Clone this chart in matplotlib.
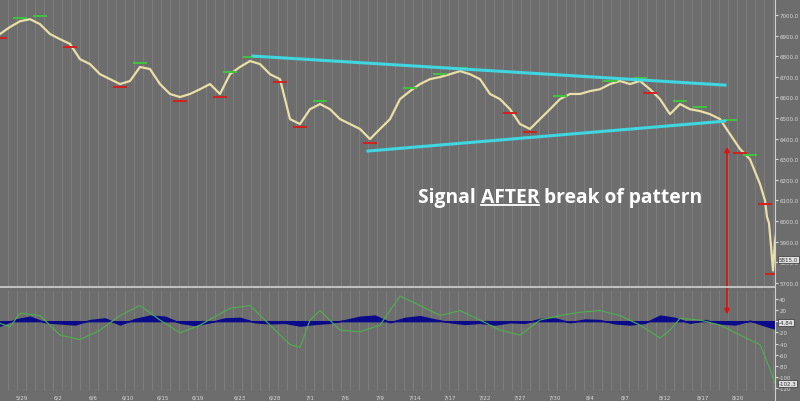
import matplotlib
matplotlib.use("Agg")
import matplotlib.pyplot as plt
from matplotlib.patches import FancyArrowPatch

# bar positions (chart time units) and closes
bar_x = list(range(0, 761, 10)) + [765, 767, 769, 771, 773, 775, 777, 779]
price = [6908, 6942, 6970, 6980, 6956, 6908, 6883, 6860, 6786, 6762, 6713, 6689, 6665,
         6680, 6748, 6738, 6665, 6617, 6602, 6617, 6640, 6665, 6617, 6713, 6748, 6777,
         6762, 6713, 6689, 6495, 6471, 6543, 6568, 6543, 6495, 6471, 6447, 6398, 6447,
         6495, 6592, 6631, 6665, 6689, 6699, 6713, 6728, 6713, 6689, 6617, 6592, 6543,
         6471, 6447, 6495, 6543, 6592, 6617, 6617, 6631, 6640, 6665, 6680, 6665, 6680,
         6640, 6592, 6519, 6568, 6543, 6534, 6519, 6495, 6422, 6350, 6300, 6180,
         6100, 6020, 5990, 5880, 5760, 5900, 5980, 5815]

osc_x = [0, 10, 20, 40, 60, 80, 100, 120, 140, 160, 180, 200, 230, 250, 270, 290, 300,
         310, 320, 340, 360, 380, 400, 420, 440, 460, 480, 500, 520, 540, 560, 580, 600,
         620, 640, 660, 670, 680, 700, 720, 740, 760, 770, 775, 780]
osc = [-4, -10, 14, 10, -25, -33, -16, 10, 28, 2, -21, -7, 23, 28, -7, -42, -47, 2, 19,
       -16, -19, -7, 45, 28, 10, 19, 2, -16, -25, 2, 10, 16, 19, 10, -7, -30, -16, 5, 2,
       -7, -25, -42, -86, -112, -95]

hist_x = [0, 15, 30, 45, 60, 75, 90, 105, 120, 135, 150, 165, 180, 195, 210, 225, 240,
          255, 270, 285, 300, 315, 330, 345, 360, 375, 390, 405, 420, 435, 450, 465, 480,
          495, 510, 525, 540, 555, 570, 585, 600, 615, 630, 645, 660, 675, 690, 705, 720,
          735, 750, 765, 780]
hist = [-8, 3, 8, -2, -4, -6, 2, 5, -6, 4, 10, 8, -3, -7, -2, 5, 6, -2, -4, -3, -8, -5,
        -3, 2, 8, 10, -2, 6, 9, 3, -2, -5, -3, -6, -2, -3, 4, 5, -2, 3, 2, -4, -6, -3,
        10, 6, -3, 2, -4, -6, 1, -8, -16]

swing_hi_x = [20, 40, 140, 230, 250, 320, 410, 440, 460, 560, 610, 640, 680, 700, 730, 750]
swing_hi = [6985, 6995, 6765, 6725, 6795, 6585, 6645, 6715, 6745, 6605, 6680, 6695, 6585, 6555, 6490, 6320]
swing_lo_x = [0, 70, 120, 180, 220, 280, 300, 370, 510, 530, 650, 720, 740, 765, 772]
swing_lo = [6890, 6845, 6650, 6585, 6600, 6675, 6455, 6380, 6525, 6430, 6620, 6480, 6330, 6085, 5745]

upper_line = ([253, 725], [6801, 6660])
lower_line = ([368, 725], [6340, 6485])

date_x = [22, 58, 93, 128, 163, 198, 240, 275, 310, 345, 380, 415, 450, 485, 520, 555,
          590, 625, 665, 703, 738]
date_lbl = ["5/29", "6/2", "6/6", "6/10", "6/15", "6/19", "6/23", "6/28", "7/1", "7/6",
            "7/9", "7/14", "7/17", "7/22", "7/27", "7/30", "8/4", "8/7", "8/12", "8/17", "8/20"]
price_ticks = list(range(5700, 7001, 100))
osc_ticks = list(range(-120, 41, 20))

BG = "#6d6d6d"
fig = plt.figure(figsize=(8, 4.02), dpi=100, facecolor=BG)
ax1 = fig.add_axes([0, 1 - 288 / 402, 775 / 800, 288 / 402], facecolor=BG)
ax2 = fig.add_axes([0, 10 / 402, 775 / 800, 100 / 402], facecolor=BG)

for ax in (ax1, ax2):
    ax.set_xlim(0, 775)
    for x in range(8, 775, 9):
        ax.axvline(x, color="#858585", lw=0.5, zorder=0)
    for s in ax.spines.values():
        s.set_visible(False)
    ax.yaxis.tick_right()
    ax.tick_params(axis="y", colors="#d8d8d8", labelsize=4, length=2, pad=1)
    ax.set_xticks([])

ax1.set_ylim(5680, 7078)
ax1.set_yticks(price_ticks)
ax1.set_yticklabels([f"{v:.1f}" for v in price_ticks])
ax1.plot(bar_x, price, color="#e9dfa8", lw=1.6, zorder=3)
ax1.hlines(swing_hi, [x - 7 for x in swing_hi_x], [x + 7 for x in swing_hi_x],
           color="#3fc43f", lw=1.4, zorder=4)
ax1.hlines(swing_lo, [x - 7 for x in swing_lo_x], [x + 7 for x in swing_lo_x],
           color="#d42020", lw=1.4, zorder=4)
ax1.plot(*upper_line, color="#3fd6e0", lw=2.2, zorder=5)
ax1.plot(*lower_line, color="#3fd6e0", lw=2.2, zorder=5)
ax1.text(1.005, 5815, "5815.0", transform=ax1.get_yaxis_transform(), fontsize=4,
         color="#333333", va="center", bbox=dict(fc="#e0e0e0", ec="#333333", lw=0.5, pad=0.6))

ax2.set_ylim(-125, 54)
ax2.set_yticks(osc_ticks)
ax2.set_yticklabels(["" if v == 0 else str(v) for v in osc_ticks])
ax2.axhline(0, color="#888888", lw=0.5)
ax2.fill_between(hist_x, hist, 0, color="#0a0a8a", zorder=3)
ax2.plot(osc_x, osc, color="#4fb04f", lw=0.8, zorder=4)
ax2.text(1.005, -2, "-4.84", transform=ax2.get_yaxis_transform(), fontsize=4,
         color="#333333", va="center", bbox=dict(fc="#e0e0e0", ec="#333333", lw=0.5, pad=0.6))
ax2.text(1.005, -112, "-102.3", transform=ax2.get_yaxis_transform(), fontsize=4,
         color="#333333", va="center", bbox=dict(fc="#e0e0e0", ec="#333333", lw=0.5, pad=0.6))

for x, lbl in zip(date_x, date_lbl):
    fig.text(x / 800, 4 / 402, lbl, fontsize=4, color="#d8d8d8", ha="center", va="center")

# separator between panels
fig.add_artist(plt.Line2D([0, 775 / 800], [1 - 288 / 402] * 2, color="#d0d0d0", lw=1.2))
fig.add_artist(plt.Line2D([775 / 800] * 2, [0, 1], color="#d0d0d0", lw=0.8))

# red arrow across both panels
fig.add_artist(FancyArrowPatch((727 / 800, 1 - 145 / 402), (727 / 800, 1 - 318 / 402),
                               transform=fig.transFigure, arrowstyle="<|-|>",
                               mutation_scale=7, color="#e01010", lw=1.2))

# annotation text with underlined AFTER
fs = 13.9
kw = dict(fontsize=fs, color="white", fontweight="bold", family="Open Sans", va="center")
y0 = 1 - 198 / 402
t1 = fig.text(418 / 800, y0, "Signal ", **kw)
fig.canvas.draw()
r = fig.canvas.get_renderer()
bb = t1.get_window_extent(r)
t2 = fig.text(bb.x1 / 800, y0, "AFTER", **kw)
bb2 = t2.get_window_extent(r)
fig.text(bb2.x1 / 800, y0, " break of pattern", **kw)
fig.add_artist(plt.Line2D([bb2.x0 / 800, bb2.x1 / 800], [(bb2.y0 + 2) / 402] * 2,
                          color="white", lw=1.3))

fig.savefig("out.png", dpi=100, facecolor=BG)
